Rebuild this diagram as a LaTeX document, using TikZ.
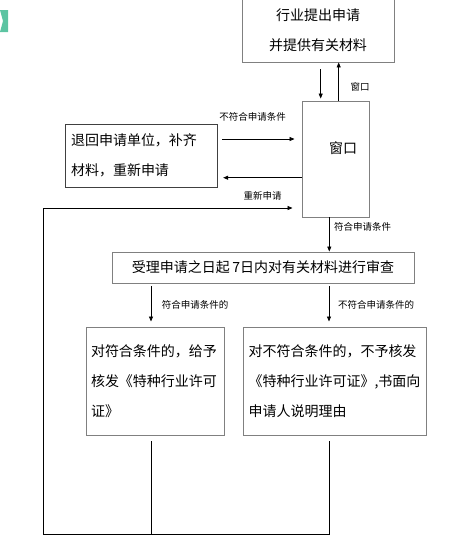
\documentclass[tikz,border=0pt]{standalone}
\usepackage{fontspec}
\setmainfont{Noto Sans CJK SC}
\usetikzlibrary{arrows.meta,calc}
\definecolor{boxgray}{HTML}{808080}
\definecolor{boxdark}{HTML}{404040}
\definecolor{chev}{HTML}{5CC4A2}
\begin{document}
\begin{tikzpicture}[x=1pt,y=-1pt,
  box/.style={draw=boxgray,line width=0.9pt,inner sep=0pt,font=\fontsize{14}{30}\selectfont},
  lbl/.style={inner sep=0pt,font=\fontsize{9.5}{11}\selectfont},
  arr/.style={line width=0.8pt,-{Triangle[length=5pt,width=4pt]}},
  ln/.style={line width=0.8pt}]
\useasboundingbox (0,0) rectangle (468,550);
\fill[chev] (0,10) -- (8,10) -- (8,32) -- (0,32) -- (3,21) -- cycle;

\node[box,minimum width=152pt,minimum height=64pt,align=center] (top) at (318,30) {行业提出申请\\并提供有关材料};
\node[box,minimum width=67pt,minimum height=116pt] (win) at (335.5,159) {};
\node[font=\fontsize{14}{16}\selectfont,inner sep=0pt] (wintext) at (343,148) {窗口};
\node[box,draw=boxdark,minimum width=152pt,minimum height=63pt,text width=140pt,align=left] (back) at (141,155.5) {退回申请单位，补齐\\材料，重新申请};
\node[box,minimum width=302pt,minimum height=31pt] (rev) at (263,267.5) {受理申请之日起\,7日内对有关材料进行审查};
\node[box,minimum width=138pt,minimum height=108pt,text width=128pt,align=left] (ok) at (155,381) {对符合条件的，给予\\核发《特种行业许可\\证》};
\node[box,minimum width=183pt,minimum height=108pt,text width=172pt,align=left] (no) at (334.5,381) {对不符合条件的，不予核发\\《特种行业许可证》,书面向\\申请人说明理由};

% top <-> window
\draw[arr] ($(top.south)+(2.7,7)$) -- ($(win.north)+(-14.8,-2)$);
\draw[arr] ($(win.north)+(3.2,0)$) -- ($(top.south)+(20.7,0)$);
\node[lbl] (l1) at (360,87) {窗口};

% left box <-> window
\draw[arr] ($(back.east)+(4.7,-16.5)$) -- ($(win.west)+(-7,-20)$);
\node[lbl] (l2) at (252.5,117) {不符合申请条件};
\draw[arr] ($(win.west)+(0,18.7)$) -- ($(back.east)+(5.7,22.2)$);
\node[lbl] (l3) at (262.5,196) {重新申请};

% window -> review
\draw[arr] (win.south -| 329.3,0) -- (rev.north -| 329.3,0);
\node[lbl] (l4) at (362.7,227) {符合申请条件};

% review -> results
\draw[arr] ($(rev.south -| ok.north)+(-4,3)$) -- ($(ok.north)+(-4,-5)$);
\node[lbl] (l5) at (195,305) {符合申请条件的};
\draw[arr] ($(rev.south)+(66,3)$) -- ($(no.north)+(-5.5,-5)$);
\node[lbl] (l6) at (376,305) {不符合申请条件的};

% loop back
\coordinate (la) at ($(ok.south)+(-4,6)$);
\coordinate (lb) at ($(no.south)+(-5.5,6)$);
\coordinate (bl) at (43.3,534);
\coordinate (tl) at (43.3,208);
\draw[ln] (la) -- (la |- bl);
\draw[ln] (lb) -- (lb |- bl) -- (bl) -- (tl);
\draw[arr] (tl) -- ($(win.west |- tl)+(-9,0)$);
\end{tikzpicture}
\end{document}
